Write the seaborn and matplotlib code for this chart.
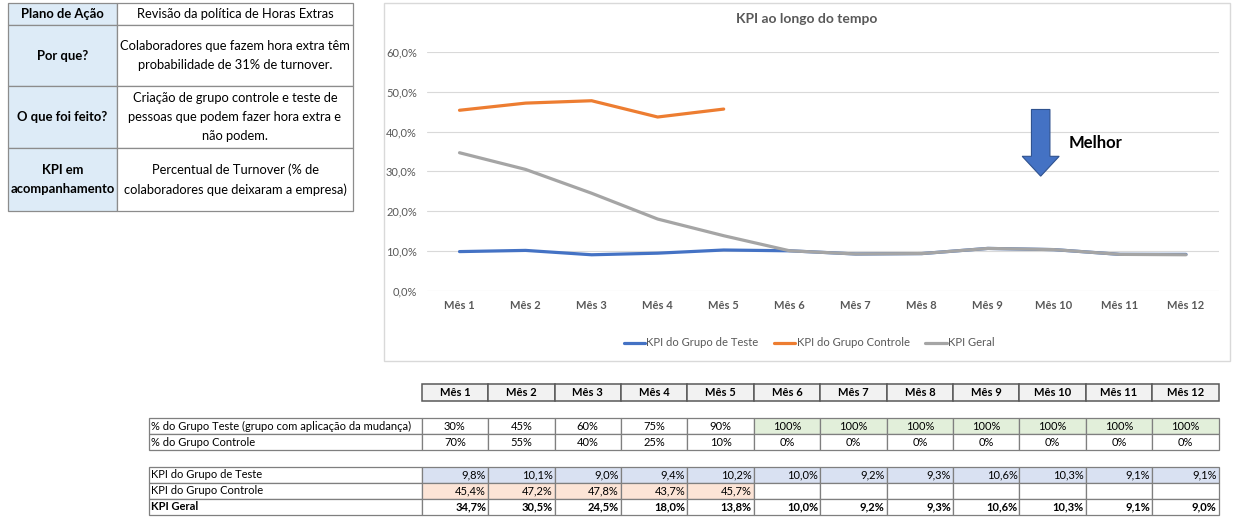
import numpy as np
import pandas as pd
import matplotlib
matplotlib.use("Agg")
import matplotlib.pyplot as plt
import matplotlib.patches as mpatches
from matplotlib.ticker import FuncFormatter, MultipleLocator
import seaborn as sns

sns.set_style("white")
plt.rcParams['font.family'] = ['Lato', 'DejaVu Sans']

# ---- data ----
meses = ["Mês 1", "Mês 2", "Mês 3", "Mês 4", "Mês 5", "Mês 6",
         "Mês 7", "Mês 8", "Mês 9", "Mês 10", "Mês 11", "Mês 12"]
pct_grupo_teste = [30, 45, 60, 75, 90, 100, 100, 100, 100, 100, 100, 100]
pct_grupo_controle = [70, 55, 40, 25, 10, 0, 0, 0, 0, 0, 0, 0]
kpi_teste = [9.8, 10.1, 9.0, 9.4, 10.2, 10.0, 9.2, 9.3, 10.6, 10.3, 9.1, 9.1]
kpi_controle = [45.4, 47.2, 47.8, 43.7, 45.7, np.nan, np.nan, np.nan,
                np.nan, np.nan, np.nan, np.nan]
kpi_geral = [34.7, 30.5, 24.5, 18.0, 13.8, 10.0, 9.2, 9.3, 10.6, 10.3, 9.1, 9.0]

series_names = ["KPI do Grupo de Teste", "KPI do Grupo Controle", "KPI Geral"]
series_colors = ["#4472C4", "#ED7D31", "#A5A5A5"]

plano_linhas = [
    ("Plano de Ação", "Revisão da política de Horas Extras"),
    ("Por que?", "Colaboradores que fazem hora extra têm\nprobabilidade de 31% de turnover."),
    ("O que foi feito?", "Criação de grupo controle e teste de\npessoas que podem fazer hora extra e\nnão podem."),
    ("KPI em\nacompanhamento", "Percentual de Turnover (% de\ncolaboradores que deixaram a empresa)"),
]

df = pd.DataFrame({"mes": meses, series_names[0]: kpi_teste,
                   series_names[1]: kpi_controle, series_names[2]: kpi_geral})


def fmt_pct(v, dec=1):
    return f"{v:.{dec}f}%".replace(".", ",")


W, H = 1235, 525
fig = plt.figure(figsize=(W / 100, H / 100), dpi=100)

# background axes in pixel coordinates for tables / chart frame
bg = fig.add_axes([0, 0, 1, 1], zorder=0)
bg.set_xlim(0, W)
bg.set_ylim(H, 0)
bg.axis("off")

grey_txt = "#595959"
line_col = "#8C8C8C"

# ---- left info table ----
xs = [8, 117, 353]
ys = [3, 25, 86, 148, 211]
for i, (lab, txt) in enumerate(plano_linhas):
    y0, y1 = ys[i], ys[i + 1]
    bg.add_patch(mpatches.Rectangle((xs[0], y0), xs[1] - xs[0], y1 - y0,
                                    facecolor="#DDEBF7", edgecolor=line_col, lw=0.9))
    bg.add_patch(mpatches.Rectangle((xs[1], y0), xs[2] - xs[1], y1 - y0,
                                    facecolor="white", edgecolor=line_col, lw=0.9))
    bg.text((xs[0] + xs[1]) / 2, (y0 + y1) / 2, lab, ha="center", va="center",
            fontsize=9.4, fontweight="bold", color="black", linespacing=1.72)
    bg.text((xs[1] + xs[2]) / 2, (y0 + y1) / 2, txt, ha="center", va="center",
            fontsize=9.3, color="black", linespacing=1.72)

# ---- chart frame ----
bg.add_patch(mpatches.Rectangle((384, 3), 1230 - 384, 361 - 3,
                                facecolor="white", edgecolor="#D9D9D9", lw=1))
bg.text(807, 19, "KPI ao longo do tempo", ha="center", va="center",
        fontsize=10, fontweight="bold", color=grey_txt)

# ---- line chart ----
px_l, px_r, px_t, px_b = 426.5, 1219, 52.3, 290.5
ax = fig.add_axes([px_l / W, 1 - px_b / H, (px_r - px_l) / W, (px_b - px_t) / H], zorder=2)
ax.patch.set_alpha(0)

for name, col in zip(series_names, series_colors):
    sns.lineplot(data=df, x="mes", y=name, ax=ax, color=col, lw=2.3,
                 label=name, sort=False)

ax.set_xlim(-0.5, len(meses) - 0.5)
ax.set_ylim(0, 60)
ax.yaxis.set_major_locator(MultipleLocator(10))
ax.yaxis.set_major_formatter(FuncFormatter(lambda v, p: fmt_pct(v)))
ax.grid(axis="y", color="#D9D9D9", lw=0.8)
ax.grid(axis="x", visible=False)
for s in ax.spines.values():
    s.set_visible(False)
ax.set_xlabel("")
ax.set_ylabel("")
ax.tick_params(axis="y", length=0, pad=7, labelsize=8, labelcolor=grey_txt)
ax.tick_params(axis="x", length=0, pad=7, labelsize=8, labelcolor=grey_txt)
for t in ax.get_xticklabels():
    t.set_fontweight("bold")

# "Melhor" arrow
ax.add_patch(mpatches.FancyArrow(8.8, 45.6, 0, -16.8, width=0.28, head_width=0.56,
                                 head_length=5.0, length_includes_head=True,
                                 facecolor="#4472C4", edgecolor="#2F528F", lw=0.8,
                                 zorder=5))
ax.text(9.22, 37.2, "Melhor", ha="left", va="center", fontsize=12,
        fontweight="bold", color="black")

leg = ax.legend(loc="center", bbox_to_anchor=(809 / W, 1 - 343 / H),
                bbox_transform=fig.transFigure, ncol=3, frameon=False,
                fontsize=8.1, handlelength=1.9, handletextpad=0.1,
                columnspacing=1.4)
for t in leg.get_texts():
    t.set_color(grey_txt)

# ---- bottom data table ----
lab_x0 = 149
col_x0 = 421.7
col_w = (1218.7 - col_x0) / len(meses)
cell_lc = "#7F7F7F"
fs_tab = 8

# header
for j, m in enumerate(meses):
    x = col_x0 + j * col_w
    bg.add_patch(mpatches.Rectangle((x, 384), col_w, 17, facecolor="#F2F2F2",
                                    edgecolor="#595959", lw=1.1))
    bg.text(x + col_w / 2, 392.5, m, ha="center", va="center", fontsize=fs_tab,
            fontweight="bold", color="black")


def table_row(y0, y1, label, values, fills, ha="center", bold=False):
    bg.add_patch(mpatches.Rectangle((lab_x0, y0), col_x0 - lab_x0, y1 - y0,
                                    facecolor="white", edgecolor=cell_lc, lw=0.9))
    bg.text(lab_x0 + 2, (y0 + y1) / 2, label, ha="left", va="center",
            fontsize=fs_tab, fontweight="bold" if bold else "normal", color="black")
    for j, (v, fc) in enumerate(zip(values, fills)):
        x = col_x0 + j * col_w
        bg.add_patch(mpatches.Rectangle((x, y0), col_w, y1 - y0, facecolor=fc,
                                        edgecolor=cell_lc, lw=0.9))
        if v == "":
            continue
        tx = x + col_w / 2 if ha == "center" else x + col_w - 2
        bg.text(tx, (y0 + y1) / 2, v, ha=ha, va="center", fontsize=fs_tab,
                fontweight="bold" if bold else "normal", color="black")


table_row(418, 434, "% do Grupo Teste (grupo com aplicação da mudança)",
          [f"{v}%" for v in pct_grupo_teste],
          ["white" if v < 100 else "#E2EFDA" for v in pct_grupo_teste])
table_row(434, 450, "% do Grupo Controle",
          [f"{v}%" for v in pct_grupo_controle], ["white"] * len(meses))
table_row(467, 483, "KPI do Grupo de Teste",
          [fmt_pct(v) for v in kpi_teste], ["#D9E1F2"] * len(meses), ha="right")
table_row(483, 499, "KPI do Grupo Controle",
          ["" if np.isnan(v) else fmt_pct(v) for v in kpi_controle],
          ["white" if np.isnan(v) else "#FCE4D6" for v in kpi_controle], ha="right")
table_row(499, 515, "KPI Geral",
          [fmt_pct(v) for v in kpi_geral], ["white"] * len(meses), ha="right", bold=True)

fig.savefig("out.png", dpi=100, facecolor="white")
